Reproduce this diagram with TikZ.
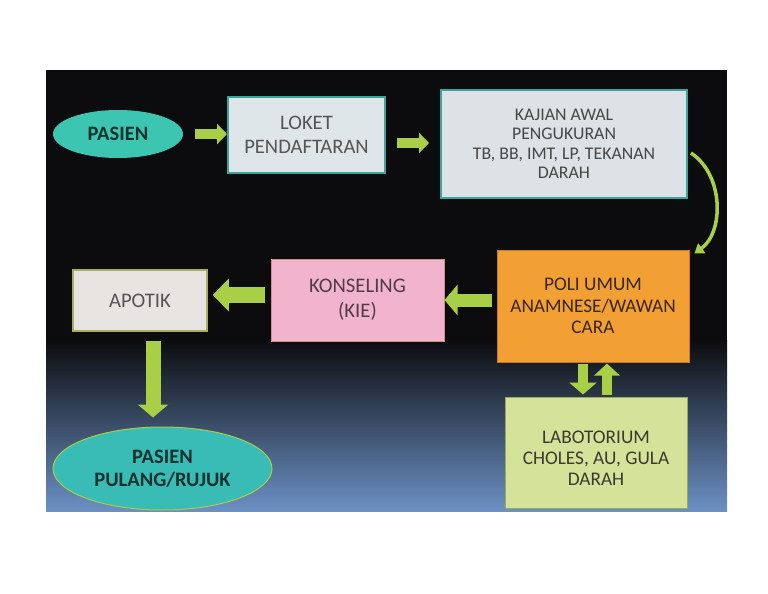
\documentclass[tikz,border=0pt]{standalone}
\usepackage{fontspec}
\setmainfont{Carlito}
\usetikzlibrary{arrows.meta,calc,shapes.geometric}
\definecolor{teal1}{HTML}{3CC6B2}
\definecolor{lime1}{HTML}{A8CF45}
\definecolor{tealbd}{HTML}{3AA59A}
\definecolor{lokfill}{HTML}{DFE6EA}
\definecolor{kajfill}{HTML}{DCE2E6}
\definecolor{polfill}{HTML}{F2A033}
\definecolor{polbd}{HTML}{C87A20}
\definecolor{konfill}{HTML}{F2B3CC}
\definecolor{konbd}{HTML}{C8967E}
\definecolor{apofill}{HTML}{E8E4E2}
\definecolor{apobd}{HTML}{A8B060}
\definecolor{labfill}{HTML}{D5E29A}
\definecolor{labbd}{HTML}{9AAA50}
\definecolor{greytext}{HTML}{555555}
\definecolor{darkteal}{HTML}{12322F}
\definecolor{bgdark}{HTML}{0C0C0E}
\definecolor{bgmid}{HTML}{22365F}
\definecolor{bgblue}{HTML}{6B90C4}
\tikzset{
  box/.style={draw, rectangle, align=center, inner sep=2pt},
  oval/.style={ellipse, align=center, inner sep=0pt, fill=teal1, text=darkteal},
}
\begin{document}
\begin{tikzpicture}[x=1pt,y=-1pt]
\useasboundingbox (0,0) rectangle (768,594);
\fill[white] (0,0) rectangle (768,594);
% background panel
\fill[bgdark] (46,70) rectangle (727,341);
\shade[top color=bgdark, middle color=bgmid, bottom color=bgblue] (46,340) rectangle (727,511);

% nodes
\node[oval, minimum width=130pt, minimum height=48pt, font=\fontsize{20.5}{23}\selectfont\bfseries] (pasien) at (118,134) {PASIEN};
\node[box, draw=tealbd, line width=2pt, fill=lokfill, text=greytext, minimum width=157pt, minimum height=76pt, font=\fontsize{20.6}{23.5}\selectfont] (loket) at (306.5,135) {LOKET\\PENDAFTARAN};
\node[box, draw=tealbd, line width=2pt, fill=kajfill, text=black!72, minimum width=246pt, minimum height=108pt, font=\fontsize{17.8}{19.5}\selectfont] (kajian) at (564,144) {KAJIAN AWAL\\PENGUKURAN\\TB, BB, IMT, LP, TEKANAN\\DARAH};
\node[box, draw=polbd, line width=1pt, fill=polfill, text=black!70!brown, minimum width=192pt, minimum height=112pt, font=\fontsize{19.3}{21.5}\selectfont] (poli) at (593,306) {POLI UMUM\\ANAMNESE/WAWAN\\CARA};
\node[box, draw=konbd, line width=1pt, fill=konfill, text=black!65!magenta!60!black, minimum width=173pt, minimum height=82pt, font=\fontsize{20.7}{25}\selectfont] (konseling) at (357.5,300) {KONSELING\\(KIE)};
\node[box, draw=apobd, line width=1.5pt, fill=apofill, text=greytext, minimum width=134pt, minimum height=61pt, font=\fontsize{20.7}{23}\selectfont] (apotik) at (140,300.5) {APOTIK};
\node[oval, draw=lime1, line width=1pt, fill=teal1!95!blue, minimum width=219pt, minimum height=83pt, font=\fontsize{20.5}{23}\selectfont\bfseries] (pulang) at (162.5,468.5) {PASIEN\\PULANG/RUJUK};
\node[box, draw=labbd, line width=1pt, fill=labfill, text=black!75!olive, minimum width=182pt, minimum height=111pt, font=\fontsize{19.3}{21}\selectfont] (lab) at (596,452.5) {\\[2pt]LABOTORIUM\\CHOLES, AU, GULA\\DARAH};

% block arrows
\draw[lime1, line width=10pt, -{Triangle[width=20pt,length=10pt]}]
  ($(pasien.east)+(12,0)$) -- ($(loket.west)+(0,-1)$);
\draw[lime1, line width=10pt, -{Triangle[width=20pt,length=10pt]}]
  ($(loket.east)+(11,8)$) -- ($(kajian.west)+(-11,-1)$);
\draw[lime1, line width=13pt, -{Triangle[width=30pt,length=13pt]}]
  ($(poli.west)+(-5,-6)$) -- (konseling.east);
\draw[lime1, line width=16pt, -{Triangle[width=32pt,length=16pt]}]
  ($(konseling.west)+(-6,-5)$) -- ($(apotik.east)+(5,-5.5)$);
\draw[lime1, line width=15pt, -{Triangle[width=30pt,length=13pt]}]
  ($(apotik.south)+(13,9)$) -- ($(pulang.north)+(-9.5,-9)$);
\draw[lime1, line width=10pt, -{Triangle[width=27pt,length=12pt]}]
  ($(poli.south)+(-10,1)$) -- ($(lab.north)+(-13,-2)$);
\draw[lime1, line width=10pt, -{Triangle[width=25pt,length=12pt]}]
  ($(lab.north)+(11,-2)$) -- ($(poli.south)+(14,1)$);
% curved arrow
\draw[lime1, line width=3.5pt, -{Triangle[width=12pt,length=9pt]}]
  ($(kajian.east)+(3,9)$) .. controls (724,175) and (724,232) .. ($(poli.north east)+(5,4)$);
\end{tikzpicture}
\end{document}
